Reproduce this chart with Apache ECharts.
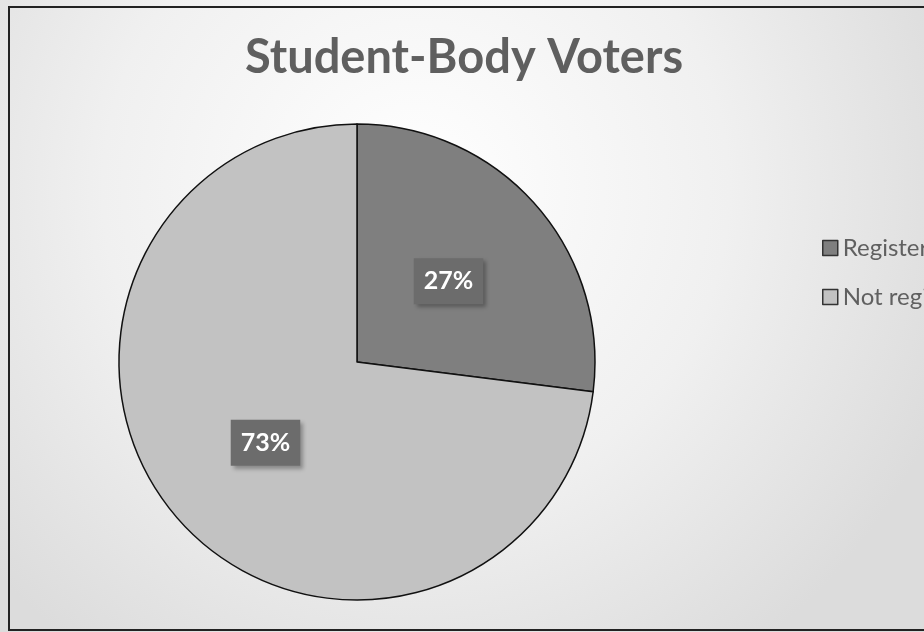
<!DOCTYPE html>
<html>
<head>
<meta charset="utf-8">
<script src="https://cdn.jsdelivr.net/npm/echarts@6/dist/echarts.min.js"></script>
<style>html,body{margin:0;padding:0;background:#fff}#c{width:924px;height:632px}</style>
</head>
<body>
<div id="c"></div>
<script>
const categories = ['Registered', 'Not registered'];
const values = [27, 73];
const sliceColors = ['#7f7f7f', '#c2c2c2'];

const chart = echarts.init(document.getElementById('c'));
const data = categories.map((name, i) => ({ name: name, value: values[i], itemStyle: { color: sliceColors[i] } }));

chart.setOption({
  backgroundColor: {
    type: 'radial', x: 0.45, y: 0.3, r: 0.9,
    colorStops: [{ offset: 0, color: '#ffffff' }, { offset: 0.55, color: '#f0f0f0' }, { offset: 1, color: '#dcdcdc' }]
  },
  graphic: [{
    type: 'rect', shape: { x: 9, y: 7, width: 940, height: 623 },
    style: { fill: 'none', stroke: '#222', lineWidth: 2 }, silent: true, z: 100
  }],
  title: {
    text: 'Student-Body Voters', left: 464, top: 34, textAlign: 'center', padding: 0,
    textStyle: { fontFamily: 'Lato', fontWeight: 'bold', fontSize: 47, color: '#5f5f5f' }
  },
  legend: {
    orient: 'vertical', left: 822, top: 236, padding: 0, itemWidth: 15, itemHeight: 15, itemGap: 25,
    icon: 'rect',
    itemStyle: { borderColor: '#333', borderWidth: 1.5 },
    textStyle: { fontFamily: 'Lato', fontSize: 24, color: '#606060' },
    data: categories
  },
  series: [{
    type: 'pie', center: [357, 362], radius: ['0%', 238], startAngle: 90, clockwise: true,
    silent: true, animation: false,
    itemStyle: { borderColor: '#111', borderWidth: 1.5 },
    label: {
      show: true, position: 'inside', formatter: '{d}%',
      fontFamily: 'Lato', fontWeight: 'bold', fontSize: 25, color: '#ffffff',
      backgroundColor: '#6c6c6c', padding: [11, 10, 10, 10],
      shadowColor: 'rgba(0,0,0,0.3)', shadowBlur: 4, shadowOffsetX: 3, shadowOffsetY: 3
    },
    labelLine: { show: false },
    data: data
  }]
});
</script>
</body>
</html>
